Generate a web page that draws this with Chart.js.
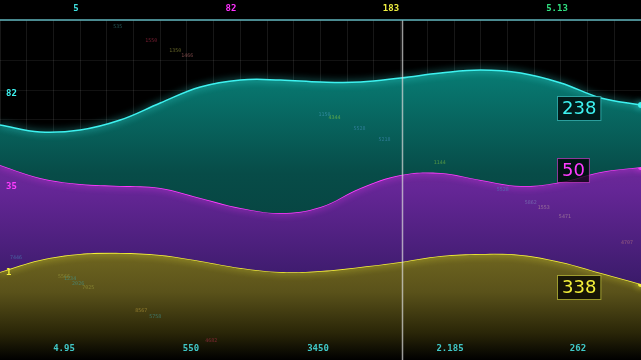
<!DOCTYPE html>
<html>
<head>
<meta charset="utf-8">
<script src="https://cdn.jsdelivr.net/npm/chart.js@4/dist/chart.umd.min.js"></script>
<style>
html, body { margin: 0; padding: 0; background: #000; }
canvas { display: block; }
</style>
</head>
<body>
<canvas id="wave" width="641" height="360"></canvas>
<script>
// x positions of the samples, and the three stacked waves (height from the bottom)
var xs = [0, 40, 80, 120, 160, 200, 240, 280, 320, 360, 400, 440, 480, 520, 560, 600, 640];
var cyanVals    = [235, 228, 230, 240, 257, 273, 280, 280, 278, 278, 282, 287, 290, 287, 277, 262, 255];
var magentaVals = [195, 182, 176, 174, 172, 162, 152, 147, 153, 172, 185, 187, 180, 174, 178, 188, 193];
var yellowVals  = [88, 100, 106, 107, 105, 99, 92, 88, 89, 93, 98, 104, 106, 105, 98, 87, 76];

var topLabels = ['5', '82', '183', '5.13'];
var topLabelX = [76, 231, 391, 557];
var bottomLabels = ['4.95', '550', '3450', '2.185', '262'];
var bottomLabelX = [64, 191, 318, 450, 578];
var sideLabels = ['82', '35', '1'];
var sideLabelVals = [266, 173, 87];
var endLabels = ['238', '50', '338'];
var cursorX = 401;

// faint little numbers scattered over the plot
var noiseText = ['535', '1550', '1350', '1466', '1150', '4344', '5528', '5218', '1144', '5528', '5862', '1553', '5471', '4707', '7446', '5566', '1234', '2026', '7025', '8567', '5758', '4682'];
var noiseX = [113, 145, 169, 181, 318, 328, 353, 378, 433, 496, 524, 537, 558, 620, 10, 58, 64, 72, 82, 135, 149, 205];
var noiseY = [333, 319, 309, 304, 245, 242, 231, 220, 197, 170, 157, 152, 143, 117, 102, 83, 81, 76, 72, 49, 43, 19];
var noiseColors = ['#3a8a8a', '#c03050', '#a0a040', '#c07070', '#4aa0c0', '#90d040', '#4a90c0', '#4a90c0', '#80c040', '#4a90c0', '#8090c0', '#c0a0a0', '#c0a0a0', '#c08080', '#4a90c0', '#a0a040', '#40a0a0', '#40a0a0', '#a0a040', '#c0a040', '#40a0a0', '#c03050'];

var lineColors = ['#3ef2f0', '#ff3cff', '#f4f03a'];

function pts(vals) {
  return vals.map(function (v, i) { return { x: xs[i], y: v }; });
}

function grad(stops) {
  return function (context) {
    var chart = context.chart;
    var area = chart.chartArea;
    if (!area) return null;
    var g = chart.ctx.createLinearGradient(0, area.top, 0, area.bottom);
    stops.forEach(function (s) { g.addColorStop(s[0], s[1]); });
    return g;
  };
}

var lastOnly = function (ctx) { return ctx.dataIndex === xs.length - 1 ? 3 : 0; };

var glow = {
  id: 'glow',
  beforeDatasetDraw: function (chart, args) {
    var ctx = chart.ctx;
    ctx.save();
    ctx.shadowColor = lineColors[args.index];
    ctx.shadowBlur = 7;
  },
  afterDatasetDraw: function (chart) {
    chart.ctx.restore();
  }
};

var overlay = {
  id: 'overlay',
  afterDraw: function (chart) {
    var ctx = chart.ctx;
    var xS = chart.scales.x, yS = chart.scales.y;
    var area = chart.chartArea;
    ctx.save();

    // little scattered numbers
    ctx.font = '5px "DejaVu Sans Mono"';
    ctx.textAlign = 'left';
    ctx.textBaseline = 'middle';
    ctx.globalAlpha = 0.6;
    noiseText.forEach(function (t, i) {
      ctx.fillStyle = noiseColors[i];
      ctx.fillText(t, xS.getPixelForValue(noiseX[i]), yS.getPixelForValue(noiseY[i]));
    });
    ctx.globalAlpha = 1;

    // cursor line
    ctx.strokeStyle = 'rgba(220,220,220,0.7)';
    ctx.lineWidth = 1.5;
    ctx.beginPath();
    var cx = Math.round(xS.getPixelForValue(cursorX)) + 0.5;
    ctx.moveTo(cx, area.top);
    ctx.lineTo(cx, area.bottom);
    ctx.stroke();

    // top border line
    ctx.strokeStyle = '#5fb4bd';
    ctx.lineWidth = 1.5;
    ctx.beginPath();
    ctx.moveTo(0, area.top);
    ctx.lineTo(chart.width, area.top);
    ctx.stroke();

    // top labels
    ctx.font = 'bold 9px "DejaVu Sans Mono"';
    ctx.textAlign = 'center';
    var topColors = ['#3ee0e0', '#ff30ff', '#f0f040', '#30e080'];
    topLabels.forEach(function (t, i) {
      ctx.fillStyle = topColors[i];
      ctx.fillText(t, topLabelX[i], 9);
    });

    // bottom labels
    ctx.fillStyle = '#40c8c8';
    bottomLabels.forEach(function (t, i) {
      ctx.fillText(t, bottomLabelX[i], 349);
    });

    // left labels
    ctx.textAlign = 'left';
    sideLabels.forEach(function (t, i) {
      ctx.fillStyle = lineColors[i];
      ctx.fillText(t, 6, yS.getPixelForValue(sideLabelVals[i]));
    });

    // right value boxes
    var series = [cyanVals, magentaVals, yellowVals];
    var borders = ['rgba(60,200,200,0.7)', 'rgba(200,60,200,0.7)', 'rgba(200,200,60,0.7)'];
    ctx.font = '18px "DejaVu Sans"';
    endLabels.forEach(function (t, i) {
      var cy = yS.getPixelForValue(series[i][series[i].length - 1]) + 3;
      var w = ctx.measureText(t).width + 9;
      var bx = 557.5, by = Math.round(cy - 12) + 0.5;
      ctx.fillStyle = 'rgba(0,0,0,0.75)';
      ctx.fillRect(bx, by, w, 24);
      ctx.strokeStyle = borders[i];
      ctx.lineWidth = 1;
      ctx.strokeRect(bx, by, w, 24);
      ctx.fillStyle = lineColors[i];
      ctx.textAlign = 'center';
      ctx.fillText(t, bx + w / 2, cy + 1);
    });

    ctx.restore();
  }
};

new Chart(document.getElementById('wave'), {
  type: 'line',
  data: {
    datasets: [{
      data: pts(cyanVals),
      borderColor: lineColors[0],
      borderWidth: 1.5,
      fill: '+1',
      backgroundColor: grad([[0, '#0a8a80'], [0.15, '#087c74'], [0.45, '#074c48'], [1, '#063030']]),
      pointRadius: lastOnly,
      pointBackgroundColor: lineColors[0],
      pointBorderWidth: 0
    }, {
      data: pts(magentaVals),
      borderColor: lineColors[1],
      borderWidth: 1.5,
      fill: '+1',
      backgroundColor: grad([[0.4, '#702a9a'], [0.5, '#652696'], [0.75, '#3e1c6e'], [1, '#200c3c']]),
      pointRadius: lastOnly,
      pointBackgroundColor: lineColors[1],
      pointBorderWidth: 0
    }, {
      data: pts(yellowVals),
      borderColor: lineColors[2],
      borderWidth: 1.5,
      fill: 'origin',
      backgroundColor: grad([[0.65, '#766c22'], [0.8, '#5a521a'], [0.92, '#2a2608'], [1, '#000000']]),
      pointRadius: lastOnly,
      pointBackgroundColor: lineColors[2],
      pointBorderWidth: 0
    }]
  },
  options: {
    responsive: false,
    animation: false,
    layout: { autoPadding: false, padding: { top: 20, left: 0, right: 0, bottom: 0 } },
    elements: { line: { tension: 0.4 } },
    plugins: { legend: { display: false }, tooltip: { enabled: false } },
    scales: {
      x: {
        type: 'linear', min: 0, max: 640, z: 1,
        ticks: { display: false, stepSize: 80 / 3 },
        grid: { color: 'rgba(255,255,255,0.09)', drawTicks: false },
        border: { display: false }
      },
      y: {
        type: 'linear', min: 0, max: 340, z: 1,
        ticks: { display: false, stepSize: 30 },
        grid: { color: 'rgba(255,255,255,0.07)', drawTicks: false },
        border: { display: false }
      }
    }
  },
  plugins: [glow, overlay]
});
</script>
</body>
</html>
